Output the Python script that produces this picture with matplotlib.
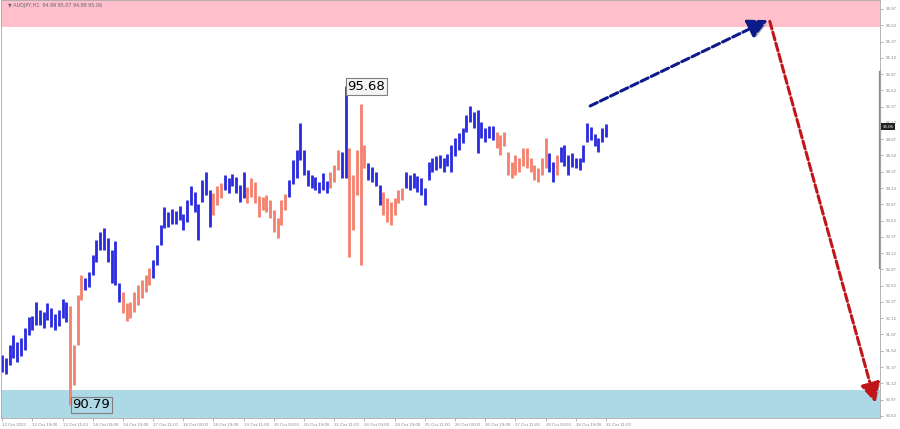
import matplotlib
matplotlib.use("Agg")
import matplotlib.pyplot as plt
import matplotlib.patheffects as pe

# AUDJPY H1, one bar per 2 hours
highs = [91.56, 91.51, 91.71, 91.86, 91.75, 91.82, 91.97, 92.14, 92.15, 92.37,
         92.25, 92.22, 92.35, 92.28, 92.19, 92.25, 92.42, 92.37, 92.31, 91.71,
         92.48, 92.78, 92.74, 92.83, 93.09, 93.32, 93.44, 93.51, 93.35, 93.17,
         93.31, 92.66, 92.52, 92.35, 92.37, 92.52, 92.63, 92.71, 92.78, 92.89,
         93.01, 93.24, 93.55, 93.83, 93.75, 93.80, 93.77, 93.84, 93.72, 93.94,
         94.15, 94.06, 93.87, 94.24, 94.37, 94.09, 94.04, 94.15, 94.20, 94.32,
         94.27, 94.34, 94.29, 94.17, 94.37, 94.14, 94.27, 94.21, 94.00, 93.98,
         94.01, 93.94, 93.78, 93.66, 93.94, 94.03, 94.24, 94.55, 94.70, 95.12,
         94.70, 94.40, 94.32, 94.29, 94.21, 94.35, 94.23, 94.37, 94.47, 94.70,
         94.67, 95.68, 94.74, 94.32, 94.70, 95.41, 94.78, 94.50, 94.44, 94.37,
         94.17, 94.06, 93.97, 93.91, 93.97, 94.09, 94.12, 94.37, 94.32, 94.35,
         94.30, 94.27, 94.12, 94.52, 94.58, 94.61, 94.63, 94.58, 94.64, 94.78,
         94.89, 94.97, 95.04, 95.24, 95.38, 95.29, 95.32, 95.13, 95.04, 95.07,
         95.07, 94.98, 94.93, 94.98, 94.67, 94.52, 94.63, 94.58, 94.74, 94.74,
         94.58, 94.47, 94.43, 94.58, 94.89, 94.66, 94.52, 94.63, 94.75, 94.78,
         94.63, 94.66, 94.58, 94.58, 94.78, 95.12, 95.06, 94.95, 94.89, 95.04,
         95.10]
lows = [91.29, 91.26, 91.40, 91.51, 91.45, 91.54, 91.63, 91.86, 91.94, 92.02,
        92.02, 91.97, 92.09, 91.99, 91.94, 92.00, 92.12, 92.06, 90.79, 91.09,
        91.71, 92.40, 92.55, 92.60, 92.78, 92.98, 93.17, 93.17, 92.98, 92.66,
        92.63, 92.37, 92.20, 92.08, 92.12, 92.22, 92.32, 92.43, 92.52, 92.63,
        92.74, 92.94, 93.24, 93.51, 93.52, 93.57, 93.57, 93.63, 93.48, 93.60,
        93.86, 93.75, 93.32, 93.91, 94.01, 93.52, 93.71, 93.86, 93.97, 94.09,
        94.04, 94.15, 94.04, 93.91, 93.97, 93.89, 93.98, 93.89, 93.67, 93.78,
        93.75, 93.66, 93.44, 93.35, 93.55, 93.78, 93.98, 94.18, 94.27, 94.55,
        94.32, 94.15, 94.12, 94.09, 94.04, 94.09, 94.04, 94.12, 94.21, 94.40,
        94.27, 94.27, 93.06, 93.48, 94.01, 92.94, 94.43, 94.24, 94.21, 94.15,
        93.86, 93.71, 93.60, 93.55, 93.71, 93.89, 93.94, 94.12, 94.09, 94.12,
        94.06, 94.01, 93.86, 94.24, 94.37, 94.40, 94.43, 94.37, 94.46, 94.37,
        94.61, 94.70, 94.81, 94.98, 95.13, 95.04, 94.66, 94.89, 94.83, 94.89,
        94.86, 94.74, 94.63, 94.77, 94.32, 94.27, 94.32, 94.37, 94.46, 94.43,
        94.37, 94.24, 94.21, 94.32, 94.43, 94.37, 94.21, 94.32, 94.52, 94.46,
        94.32, 94.44, 94.43, 94.40, 94.52, 94.83, 94.86, 94.77, 94.67, 94.83,
        94.90]
# bar index ranges drawn in salmon (corrective waves)
salmon_runs = [(18, 21), (32, 39), (56, 58), (65, 75), (87, 89), (92, 96),
               (101, 106), (131, 144), (147, 147)]

time_labels = ["12 Oct 2022", "12 Oct 19:00", "13 Oct 11:00", "14 Oct 03:00",
               "14 Oct 19:00", "17 Oct 11:00", "18 Oct 03:00", "18 Oct 19:00",
               "19 Oct 11:00", "20 Oct 03:00", "20 Oct 19:00", "21 Oct 11:00",
               "24 Oct 03:00", "24 Oct 19:00", "25 Oct 11:00", "26 Oct 03:00",
               "26 Oct 19:00", "27 Oct 11:00", "28 Oct 03:00", "28 Oct 19:00",
               "31 Oct 11:00"]
price_ticks = [90.62, 90.87, 91.12, 91.37, 91.62, 91.87, 92.12, 92.37, 92.62,
               92.87, 93.12, 93.37, 93.62, 93.87, 94.12, 94.37, 94.62, 94.87,
               95.12, 95.37, 95.62, 95.87, 96.12, 96.37, 96.62, 96.87]

resist_zone = (96.59, 97.01)
support_zone = (90.59, 91.02)
up_arrow = [(155.8, 95.38), (202.9, 96.70)]
down_arrow = [(203.4, 96.68), (231.4, 90.82)]
last_price = 95.06

BLUE = "#2a2ade"
SALMON = "#f4806e"
SMALL = "Liberation Sans"

fig = plt.figure(figsize=(9, 4.29), dpi=100)
ax = fig.add_axes([1 / 900, 11 / 429, 879 / 900, 418 / 429])

ax.axhspan(*resist_zone, color="#ffc0cb", lw=0, zorder=0)
ax.axhspan(*support_zone, color="#add8e6", lw=0, zorder=0)

n = len(highs)
cols = []
for i in range(n):
    c = BLUE
    for a, b in salmon_runs:
        if a <= i <= b:
            c = SALMON
    cols.append(c)
ax.vlines(range(n), lows, highs, colors=cols, lw=2.0, zorder=2)

# extreme labels
ax.text(91.5, max(highs), "%.2f" % max(highs), fontsize=9.5, ha="left", va="center",
        bbox=dict(boxstyle="square,pad=0.12", fc="#f4f4f4", ec="#808080", lw=0.8), zorder=4)
ax.text(18.6, min(lows), "%.2f" % min(lows), fontsize=9.5, ha="left", va="center",
        bbox=dict(boxstyle="square,pad=0.12", fc="#add8e6", ec="#808080", lw=0.8), zorder=4)

shadow = [pe.SimplePatchShadow(offset=(1.5, -1.5), shadow_rgbFace="#999999", alpha=0.6), pe.Normal()]
for (p0, p1), col in [(up_arrow, "#0d1a8a"), (down_arrow, "#c0161b")]:
    ax.annotate("", xy=p1, xytext=p0,
                arrowprops=dict(arrowstyle="-|>,head_length=0.9,head_width=0.45",
                                color=col, lw=2.2, linestyle=(0, (2.6, 1.1)),
                                mutation_scale=13, shrinkA=0, shrinkB=0,
                                path_effects=shadow),
                zorder=5)

ax.set_xlim(-0.3, 232.6)
ax.set_ylim(90.587, 97.008)

ax.yaxis.tick_right()
ax.set_yticks(price_ticks)
ax.set_yticklabels(["%.2f" % v for v in price_ticks], fontfamily=SMALL)
ax.set_xticks(range(0, 161, 8))
ax.set_xticklabels(time_labels, ha="left", fontfamily=SMALL)
ax.tick_params(axis="both", labelsize=3.2, colors="#999999", length=2, width=0.5, pad=1.5)
ax.tick_params(axis="y", labelcolor="#888888", pad=2.5)
ax.tick_params(axis="x", labelcolor="#888888")
for s in ax.spines.values():
    s.set_color("#aaaaaa")
    s.set_linewidth(0.6)

# price marker and scale bar on the right
ax.text(1.003, last_price, "%.2f" % last_price, transform=ax.get_yaxis_transform(),
        fontsize=3.2, fontfamily=SMALL, color="white", va="center", ha="left",
        bbox=dict(boxstyle="square,pad=0.3", fc="#222222", ec="none"))
ax.plot([1.0, 1.0], [92.89, 95.90], transform=ax.get_yaxis_transform(),
        color="#888888", lw=1.6, clip_on=False)

ax.text(0.008, 0.992, "\u25bc AUDJPY,H1  94.99 95.07 94.98 95.06", transform=ax.transAxes,
        fontsize=3.5, color="#666666", va="top", ha="left")

fig.savefig("out.png", dpi=100)
